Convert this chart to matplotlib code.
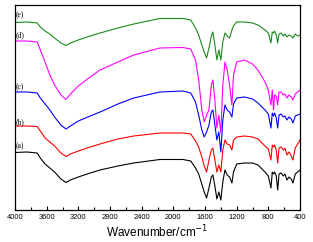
import numpy as np
import matplotlib
matplotlib.use("Agg")
import matplotlib.pyplot as plt
from matplotlib.ticker import MultipleLocator

# wavenumber grid shared by all spectra (cm-1)
wn = [4000, 3850, 3720, 3680, 3620, 3560, 3500, 3420, 3356, 3300,
      3200, 3050, 2926, 2700, 2500, 2169, 1878, 1780, 1720, 1680,
      1640, 1610, 1580, 1550, 1520, 1500, 1475, 1450, 1425, 1400,
      1375, 1348, 1320, 1290, 1260, 1240, 1200, 1100, 1000, 931,
      842, 800, 767, 750, 735, 720, 700, 682, 665, 640,
      610, 590, 565, 540, 510, 489, 460, 430, 400]

# offset transmittance (a.u.)
spec_a = [57.5, 58, 57, 52, 46, 42, 38, 31, 27.5, 30,
          33, 37, 40, 44, 47, 50.5, 50.5, 49, 42, 36,
          26, 18, 12, 22, 33, 35, 24, 11, 18, 10,
          28, 40, 35, 33, 27, 38, 46, 47, 47, 45,
          38, 34, 22, 38, 36, 38, 34, 20, 36, 37,
          34, 36, 30, 33, 31, 27, 36, 38, 40]
spec_b = [84, 84, 83.5, 79, 72, 68, 64, 57, 53.5, 56,
          59, 63, 66, 71, 74, 77, 77, 76, 69, 63,
          53, 44, 38, 50, 60, 62, 50, 38, 45, 38,
          60, 70, 66, 65, 60, 70, 73, 74, 73, 71,
          64, 61, 50, 65, 63, 65, 60, 47, 62, 63,
          60, 62, 55, 58, 54, 50, 62, 66, 70]
spec_c = [118, 118, 117, 112, 106, 100, 93, 85, 81, 84,
          89, 94, 98, 106, 112, 118, 119, 117, 108, 95,
          80, 73, 78, 85, 98, 100, 85, 70, 78, 58,
          90, 105, 100, 98, 93, 106, 112, 113, 111, 107,
          100, 96, 82, 97, 94, 97, 92, 82, 95, 96,
          93, 94, 90, 93, 91, 87, 94, 95, 96]
spec_d = [169, 169, 168, 160, 148, 135, 125, 115, 110.5, 116,
          124, 133, 140, 148, 155, 162, 162.5, 161, 150, 130,
          100, 88, 95, 100, 125, 130, 110, 82, 95, 77,
          125, 148, 140, 125, 105, 135, 148, 150, 146, 140,
          128, 120, 105, 120, 100, 115, 114, 105, 118, 118,
          115, 116, 112, 115, 113, 110, 116, 118, 120]
spec_e = [187.5, 188, 187, 183, 179, 176, 172, 167, 164.5, 167,
          170, 174, 177, 182, 186, 191.5, 191.5, 190, 182, 175,
          165, 158, 152, 162, 174, 178, 165, 150, 160, 150,
          168, 177, 174, 172, 180, 184, 188, 188, 187, 185,
          180, 177, 167, 178, 177, 179, 175, 167, 176, 177,
          174, 176, 173, 175, 174, 172, 176, 174, 175]

labels = ['(a)', '(b)', '(c)', '(d)', '(e)']
label_y = [64, 88, 123, 175, 195]
colors = ['black', '#ff0000', '#0000ff', '#ff00ff', '#1a8a1a']

fig = plt.figure(figsize=(3.13, 2.42), dpi=100)
ax = fig.add_axes([15/313, 32/242, 285/313, 205/242])

for s, c in zip([spec_a, spec_b, spec_c, spec_d, spec_e], colors):
    ax.plot(wn, s, color=c, lw=0.8)

for lab, yy in zip(labels, label_y):
    ax.text(3990, yy, lab, fontsize=5.5, family='Liberation Serif',
            ha='left', va='center')

ax.set_xlim(4000, 400)
ax.set_ylim(0, 205)
ax.xaxis.set_major_locator(MultipleLocator(400))
ax.xaxis.set_minor_locator(MultipleLocator(200))
ax.tick_params(axis='x', which='major', direction='in', length=3, width=0.8,
               labelsize=5.4, pad=3)
ax.tick_params(axis='x', which='minor', direction='in', length=2, width=0.8)
ax.set_yticks([])
for lbl in ax.get_xticklabels():
    lbl.set_family('Liberation Sans')
for sp in ax.spines.values():
    sp.set_linewidth(0.9)
ax.set_xlabel('Wavenumber/cm$^{-1}$', fontsize=8.5, family='Liberation Sans',
              labelpad=2)

fig.savefig('out.png', dpi=100)
